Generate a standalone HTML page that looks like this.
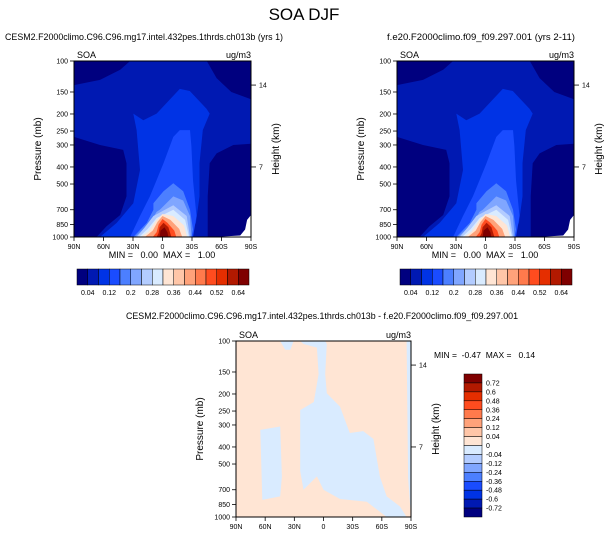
<!DOCTYPE html>
<html><head><meta charset="utf-8"><style>
body{margin:0;background:#fff;}
svg{display:block;font-family:"Liberation Sans",Arial,sans-serif;}
</style></head><body>
<svg id="c" width="609" height="538" viewBox="0 0 609 538">
<text x="304" y="20" text-anchor="middle" font-size="17">SOA DJF</text>
</svg>
<script>
const NS='http://www.w3.org/2000/svg';
const svg=document.getElementById('c');
// colormap (16 levels) and labels
const colors=['#00007f','#0019b2','#0033e5','#1a4cff','#4c7fff','#80a6ff','#b3ccff','#d9ebff','#ffe5d4','#ffc6a8','#ffa27a','#ff7a4c','#ff4c1f','#e52e00','#b21900','#7f0000'];
const topBarLabels=['0.04','0.12','0.2','0.28','0.36','0.44','0.52','0.64'];
const diffBarLabels=['0.72','0.6','0.48','0.36','0.24','0.12','0.04','0','-0.04','-0.12','-0.24','-0.36','-0.48','-0.6','-0.72'];
const pTicks=[100,150,200,250,300,400,500,700,850,1000];
const latTicks=[90,60,30,0,-30,-60,-90];
const latLabels=['90N','60N','30N','0','30S','60S','90S'];
const hTicks=[{p:137,l:'14'},{p:400,l:'7'}];
// contour regions for SOA field: [level, [[lat,p],...]]
const soaRegions=[
 [0,[[90,100],[33,100],[43,112],[63.6,128],[90,137]]],
 [0,[[-45,100],[-90,100],[-90,165],[-70,150],[-55,125]]],
 [0,[[90,270],[63.6,300],[40,320],[36.6,381],[36.6,588],[43,750],[57,870],[67,1000],[90,1000]]],
 [0,[[-46,1000],[-46,588],[-48,381],[-55,335],[-72,300],[-90,295],[-90,1000]]],
 [2,[[29.7,199],[19.5,217],[6,199],[-17.6,144],[-27.8,148],[-44.7,187],[-48,199],[-41,247],[-37.6,381],[-37.6,588],[-34,832],[-27,1000],[63.6,1000],[46.6,832],[29.7,643],[22.9,416],[26.3,247]]],
 [3,[[6,475],[-1,381],[-11,270],[-17.6,247],[-28,247],[-29.4,305],[-31,475],[-34.6,760],[-31,1000],[33,1000],[22.9,760],[12.8,588]]],
 [4,[[9.3,643],[-1,550],[-11,495],[-21,550],[-28,700],[-31,906],[-29.5,1000],[29.7,1000],[16,832],[9.3,700]]],
 [5,[[2.7,700],[-11,588],[-21,620],[-28,760],[-29.5,1000],[28,1000],[12.8,832],[6,720]]],
 [6,[[9.3,760],[-11,660],[-24.6,760],[-28,1000],[26,1000],[18,880]]],
 [7,[[6,780],[-11,700],[-23,800],[-27,1000],[24,1000],[15,900]]],
 [8,[[6,800],[0,740],[-11,760],[-22,860],[-25,1000],[22,1000],[14,930]]],
 [10,[[5,820],[0,760],[-8,800],[-17,900],[-20,1000],[18,1000],[10,920]]],
 [12,[[4,850],[0,790],[-5,830],[-12,920],[-14,1000],[10,1000],[6,940]]],
 [14,[[3,880],[-1,830],[-6,880],[-9,1000],[6,1000],[4,950]]],
 [15,[[2,920],[-2,880],[-5,940],[-6,1000],[3,1000]]],
 [-1,[[-52,1000],[-79,980],[-84,906],[-86,800],[-90,750],[-90,1000]]]
];
const diffRegions=[
 [7,[[44.5,100],[39.4,112],[34.2,112],[30.8,100]]],
 [7,[[24,100],[-1.7,100],[-3.4,104],[-1.7,154],[-3.4,198],[-17,236],[-27,333],[-40.8,325],[-51.3,360],[-58,590],[-65,764],[-78.7,872],[-85.5,1000],[-65,1000],[-44.5,820],[-17,790],[0,700],[6.8,588],[20.6,700],[24,550],[24,247],[10,222],[5,154],[6.8,109],[20.6,104]]],
 [7,[[65,320],[44.5,306],[42.8,588],[44.5,764],[63,800]]],
 [7,[[-85.5,100],[-90,100],[-90,1000],[-87,600]]]
];
function el(tag,attrs,parent){const e=document.createElementNS(NS,tag);for(const k in attrs)e.setAttribute(k,attrs[k]);(parent||svg).appendChild(e);return e;}
function txt(x,y,s,size,anchor,parent,extra){const t=el('text',Object.assign({x:x,y:y,'font-size':size,'text-anchor':anchor||'start'},extra||{}),parent);t.textContent=s;return t;}
function panel(ox,oy,w,h,bgLevel,regions,name){
 const g=el('g',{});
 
 
 const X=lat=>ox+(90-lat)/180*w;
 const Y=p=>oy+Math.log10(p/100)*h;
 el('rect',{x:ox,y:oy,width:w,height:h,fill:colors[bgLevel]},g);
 regions.forEach(r=>{
  const poly=el('polygon',{points:r[1].map(q=>X(q[0]).toFixed(1)+','+Y(q[1]).toFixed(1)).join(' '),fill:r[0]<0?'#fff':colors[r[0]]},g);
  
  
 });
 el('rect',{x:ox,y:oy,width:w,height:h,fill:'none',stroke:'#000','stroke-width':1},g);
 pTicks.forEach(p=>{const y=Y(p);el('line',{x1:ox-4,x2:ox,y1:y,y2:y,stroke:'#000','stroke-width':0.8},g);txt(ox-6,y+2.5,String(p),7,'end',g);});
 latTicks.forEach((l,i)=>{const x=X(l);el('line',{x1:x,x2:x,y1:oy+h,y2:oy+h+4,stroke:'#000','stroke-width':0.8},g);txt(x,oy+h+12,latLabels[i],7,'middle',g);});
 hTicks.forEach(t=>{const y=Y(t.p);el('line',{x1:ox+w,x2:ox+w+5,y1:y,y2:y,stroke:'#000','stroke-width':0.8},g);txt(ox+w+8,y+2.5,t.l,7,'start',g);});
 txt(ox+3,oy-3,'SOA',9,'start',g);
 txt(ox+w,oy-3,'ug/m3',9,'end',g);
 txt(0,0,'Pressure (mb)',10,'middle',g,{transform:`translate(${ox-33},${oy+h/2}) rotate(-90)`});
 txt(0,0,'Height (km)',10,'middle',g,{transform:`translate(${ox+w+28},${oy+h/2}) rotate(-90)`});
}
panel(74,61,177,176,1,soaRegions,'panel-cesm2');
panel(397,61,177,176,1,soaRegions,'panel-f09');
panel(236,341,175,176,8,diffRegions,'panel-difference');
txt(5,40,'CESM2.F2000climo.C96.C96.mg17.intel.432pes.1thrds.ch013b (yrs 1)',9.5,'start',svg,{textLength:278,lengthAdjust:'spacingAndGlyphs'});
txt(387,40,'f.e20.F2000climo.f09_f09.297.001 (yrs 2-11)',9.5,'start',svg,{textLength:188,lengthAdjust:'spacingAndGlyphs'});
txt(126,319,'CESM2.F2000climo.C96.C96.mg17.intel.432pes.1thrds.ch013b - f.e20.F2000climo.f09_f09.297.001',9.5,'start',svg,{textLength:392,lengthAdjust:'spacingAndGlyphs'});
txt(162,258,'MIN =   0.00  MAX =   1.00',9,'middle',svg,{style:'white-space:pre'});
txt(485,258,'MIN =   0.00  MAX =   1.00',9,'middle',svg,{style:'white-space:pre'});
txt(434,358,'MIN =  -0.47  MAX =   0.14',8.5,'start',svg,{style:'white-space:pre'});
function hbar(x0,y0,w,h,name){
 const g=el('g',{});
 
 
 const bw=w/colors.length;
 colors.forEach((c,i)=>el('rect',{x:x0+i*bw,y:y0,width:bw,height:h,fill:c,stroke:'#000','stroke-width':0.5},g));
 topBarLabels.forEach((l,i)=>txt(x0+(2*i+1)*bw,y0+h+10,l,7,'middle',g));
}
hbar(77,269,172,16,'colorbar-cesm2');
hbar(400,269,172,16,'colorbar-f09');
(function(){
 const g=el('g',{});
 
 
 const x0=464,y0=374,w=18,h=143,bh=h/16;
 const rev=colors.slice().reverse();
 rev.forEach((c,i)=>el('rect',{x:x0,y:y0+i*bh,width:w,height:bh,fill:c,stroke:'#000','stroke-width':0.5},g));
 diffBarLabels.forEach((l,i)=>txt(x0+w+4,y0+(i+1)*bh+2.5,l,7,'start',g));
})();
</script>
</body></html>
